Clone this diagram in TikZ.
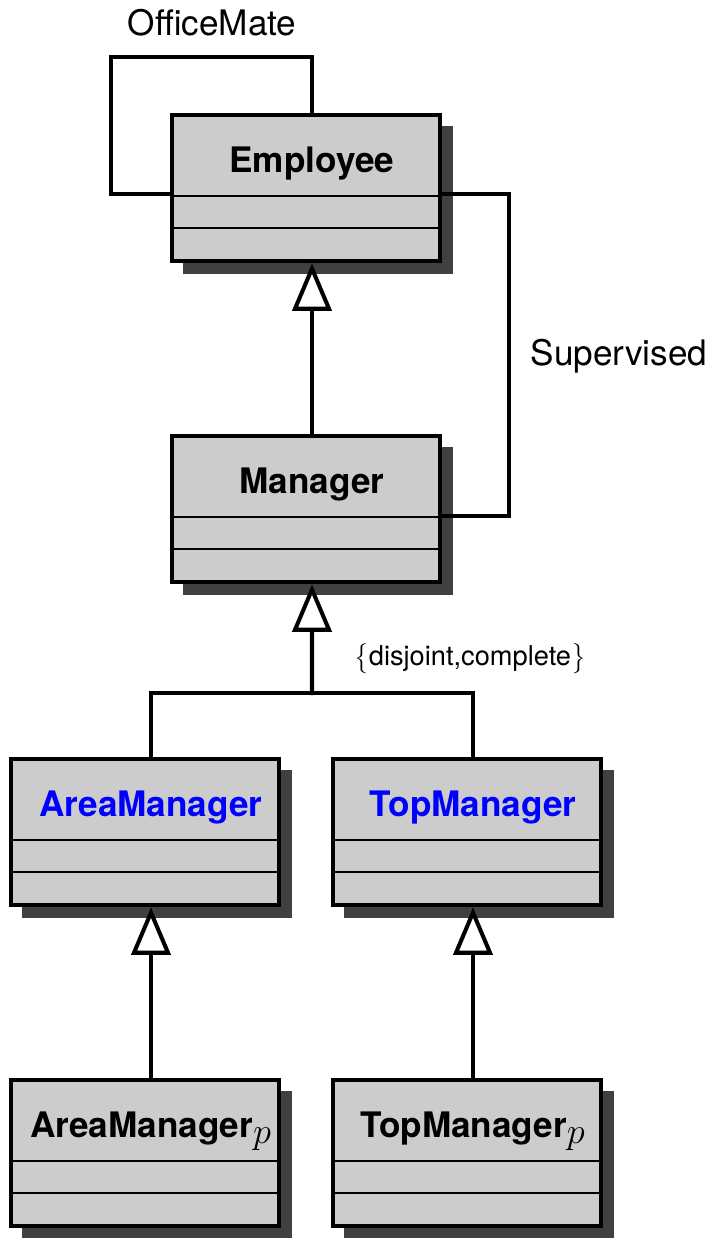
\documentclass[tikz,border=0pt]{standalone}
\usepackage{amsmath}
\usepackage{fontspec}
\setmainfont{TeX Gyre Heros}
\usetikzlibrary{arrows.meta, shadows}

\definecolor{classgray}{gray}{0.8}
\definecolor{shadowgray}{gray}{0.25}
\newcommand{\classtitle}[1]{\hspace*{0.24cm}#1}

\tikzset{
  umlclass/.style={draw, line width=2.3pt, fill=classgray,
    inner xsep=0pt, inner ysep=0pt,
    minimum width=5.36cm, text height=1.16cm, text depth=1.77cm,
    font=\bfseries\fontsize{20}{24}\selectfont,
    drop shadow={shadow xshift=0.24cm, shadow yshift=-0.24cm,
      fill=shadowgray, draw=shadowgray, line width=1.1pt, opacity=1},
    path picture={
      \draw[line width=1.1pt] ([yshift=-1.62cm]path picture bounding box.north west)
        -- ([yshift=-1.62cm]path picture bounding box.north east);
      \draw[line width=1.1pt] ([yshift=-2.26cm]path picture bounding box.north west)
        -- ([yshift=-2.26cm]path picture bounding box.north east);
    }},
  isa/.style={line width=2.3pt, -{Triangle[fill=white, length=0.95cm, width=0.78cm]}},
  assoc/.style={line width=2.3pt},
  rolelabel/.style={anchor=base, font=\fontsize{20}{24}\selectfont}
}

\begin{document}
\begin{tikzpicture}[x=0.02cm, y=-0.02cm]
\useasboundingbox (0,0) rectangle (718,1238);

% classes
\node[umlclass] (emp) at (306,188) {\classtitle{Employee}};
\node[umlclass] (mgr) at (306,509) {\classtitle{Manager}};
\node[umlclass, text=blue] (area) at (145,832) {\classtitle{AreaManager}};
\node[umlclass, text=blue] (top) at (467,832) {\classtitle{TopManager}};
\node[umlclass] (areap) at (145,1153) {\classtitle{AreaManager$_{\textstyle p}$}};
\node[umlclass] (topp) at (467,1153) {\classtitle{TopManager$_{\textstyle p}$}};

% generalisations
\coordinate (bus) at (312,695);
\draw[isa] ([xshift=0.12cm]mgr.north) -- ([xshift=0.12cm]emp.south);
\draw[assoc] ([xshift=0.12cm]area.north) -- ++(0,-64) -| ([xshift=0.12cm]top.north);
\draw[isa] (bus) -- ([xshift=0.12cm]mgr.south);
\draw[isa] ([xshift=0.12cm]areap.north) -- ([xshift=0.12cm]area.south);
\draw[isa] ([xshift=0.12cm]topp.north) -- ([xshift=0.12cm]top.south);

% associations
\draw[assoc] ([yshift=-0.12cm]emp.west) -- ++(-59,0) -- ++(0,-137)
  -| ([xshift=0.12cm]emp.north);
\draw[assoc] ([yshift=-0.12cm]emp.east) -- ++(67,0) |- ([yshift=-0.14cm]mgr.east);

\node[rolelabel] (officemate) at (212,35) {OfficeMate};
\node[rolelabel] (supervised) at (619,365) {Supervised};
\node[anchor=base, font=\fontsize{15.5}{18}\selectfont] (constraint) at (470,665)
  {$\bigl\{$disjoint,complete$\bigr\}$};

\end{tikzpicture}
\end{document}
